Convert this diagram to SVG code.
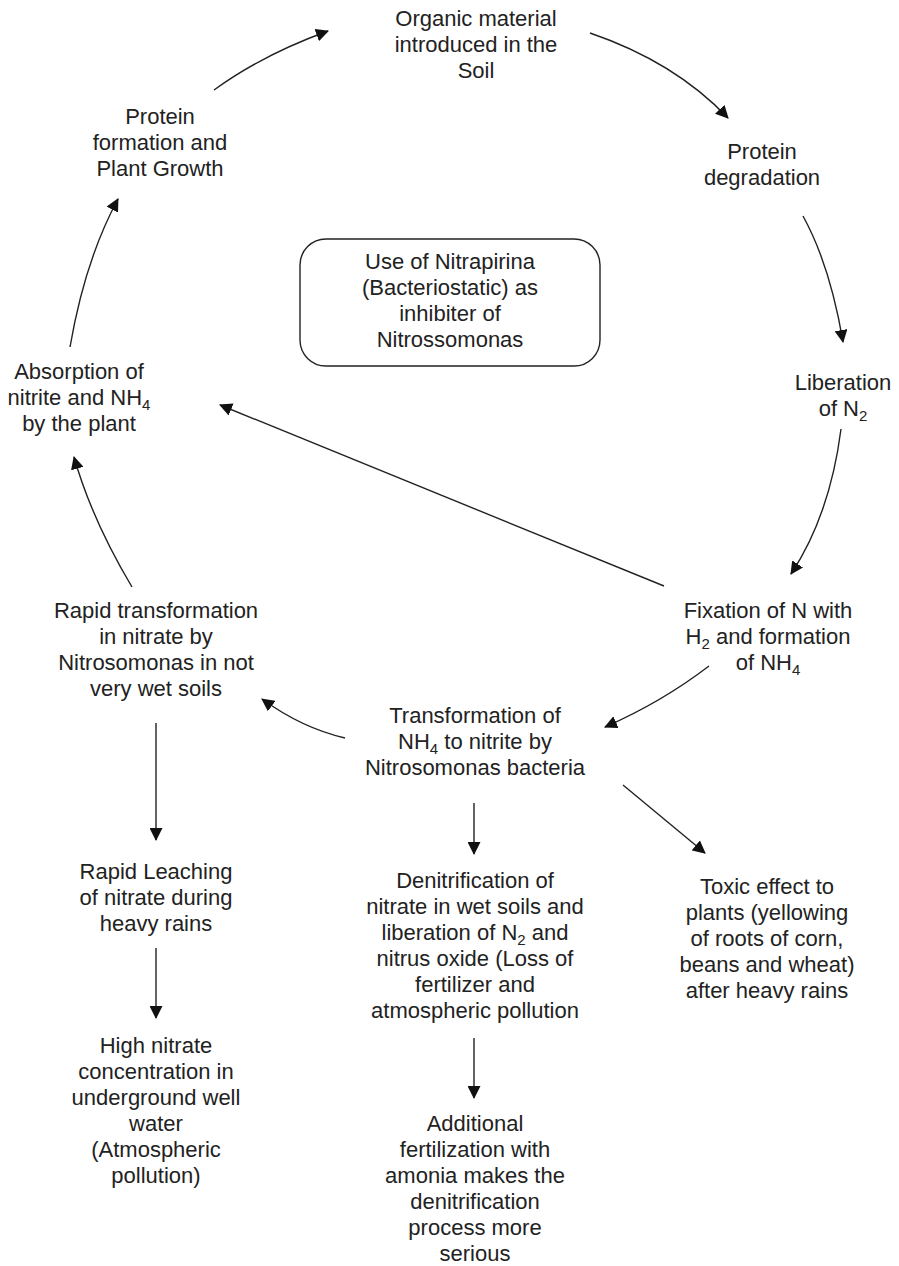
<svg xmlns="http://www.w3.org/2000/svg" width="899" height="1266" viewBox="0 0 899 1266">
<style>
text{font-family:"Liberation Sans",Arial,sans-serif;font-size:22px;fill:#222;text-anchor:middle}
.s{font-size:15px}
.c{fill:none;stroke:#222;stroke-width:1.4}
.box{fill:#fff;stroke:#222;stroke-width:1.4}
</style>
<defs>
<marker id="ah" markerWidth="13" markerHeight="13" refX="12" refY="6.5" orient="auto" markerUnits="userSpaceOnUse">
<path d="M0,0 L13,6.5 L0,13 Z" fill="#111"/>
</marker>
</defs>
<rect width="899" height="1266" fill="#fff"/>
<g id="connectors">
<path class="c" d="M214,90 Q262,55 328,31" marker-end="url(#ah)"/>
<path class="c" d="M590,33 Q675,62 728,118" marker-end="url(#ah)"/>
<path class="c" d="M803,216 Q830,265 843,342" marker-end="url(#ah)"/>
<path class="c" d="M841,429 Q830,515 791,574" marker-end="url(#ah)"/>
<path class="c" d="M664,586 L220,405" marker-end="url(#ah)"/>
<path class="c" d="M709,666 Q662,702 605,727" marker-end="url(#ah)"/>
<path class="c" d="M345,738 Q302,728 262,699" marker-end="url(#ah)"/>
<path class="c" d="M132,587 Q92,520 74,457" marker-end="url(#ah)"/>
<path class="c" d="M70,347 Q85,260 118,199" marker-end="url(#ah)"/>
<path class="c" d="M156,723 L156,840" marker-end="url(#ah)"/>
<path class="c" d="M156,948 L156,1018" marker-end="url(#ah)"/>
<path class="c" d="M474,803 L474,854" marker-end="url(#ah)"/>
<path class="c" d="M474,1038 L474,1098" marker-end="url(#ah)"/>
<path class="c" d="M623,785 L705,853" marker-end="url(#ah)"/>
</g>
<g id="organic">
<text x="476" y="26">Organic material</text>
<text x="476" y="52">introduced in the</text>
<text x="476" y="78">Soil</text>
</g>
<g id="degradation">
<text x="762" y="159">Protein</text>
<text x="762" y="185">degradation</text>
</g>
<g id="liberation">
<text x="843" y="390">Liberation</text>
<text x="843" y="416">of N<tspan class="s" dy="5">2</tspan></text>
</g>
<g id="fixation">
<text x="768" y="618">Fixation of N with</text>
<text x="768" y="644">H<tspan class="s" dy="5">2</tspan><tspan dy="-5"> and formation</tspan></text>
<text x="768" y="670">of NH<tspan class="s" dy="5">4</tspan></text>
</g>
<g id="transformation">
<text x="475" y="723">Transformation of</text>
<text x="475" y="749">NH<tspan class="s" dy="5">4</tspan><tspan dy="-5"> to nitrite by</tspan></text>
<text x="475" y="775">Nitrosomonas bacteria</text>
</g>
<g id="rapid-transformation">
<text x="156" y="618">Rapid transformation</text>
<text x="156" y="644">in nitrate by</text>
<text x="156" y="670">Nitrosomonas in not</text>
<text x="156" y="696">very wet soils</text>
</g>
<g id="absorption">
<text x="79" y="379">Absorption of</text>
<text x="79" y="405">nitrite and NH<tspan class="s" dy="5">4</tspan></text>
<text x="79" y="431">by the plant</text>
</g>
<g id="protein-formation">
<text x="160" y="124">Protein</text>
<text x="160" y="150">formation and</text>
<text x="160" y="176">Plant Growth</text>
</g>
<g id="nitrapirina">
<rect class="box" x="300" y="239" width="300" height="127" rx="26"/>
<text x="450" y="269">Use of Nitrapirina</text>
<text x="450" y="295">(Bacteriostatic) as</text>
<text x="450" y="321">inhibiter of</text>
<text x="450" y="347">Nitrossomonas</text>
</g>
<g id="leaching">
<text x="156" y="879">Rapid Leaching</text>
<text x="156" y="905">of nitrate during</text>
<text x="156" y="931">heavy rains</text>
</g>
<g id="high-nitrate">
<text x="156" y="1053">High nitrate</text>
<text x="156" y="1079">concentration in</text>
<text x="156" y="1105">underground well</text>
<text x="156" y="1131">water</text>
<text x="156" y="1157">(Atmospheric</text>
<text x="156" y="1183">pollution)</text>
</g>
<g id="denitrification">
<text x="475" y="888">Denitrification of</text>
<text x="475" y="914">nitrate in wet soils and</text>
<text x="475" y="940">liberation of N<tspan class="s" dy="5">2</tspan><tspan dy="-5"> and</tspan></text>
<text x="475" y="966">nitrus oxide (Loss of</text>
<text x="475" y="992">fertilizer and</text>
<text x="475" y="1018">atmospheric pollution</text>
</g>
<g id="additional">
<text x="475" y="1131">Additional</text>
<text x="475" y="1157">fertilization with</text>
<text x="475" y="1183">amonia makes the</text>
<text x="475" y="1209">denitrification</text>
<text x="475" y="1235">process more</text>
<text x="475" y="1261">serious</text>
</g>
<g id="toxic">
<text x="767" y="894">Toxic effect to</text>
<text x="767" y="920">plants (yellowing</text>
<text x="767" y="946">of roots of corn,</text>
<text x="767" y="972">beans and wheat)</text>
<text x="767" y="998">after heavy rains</text>
</g>
</svg>
